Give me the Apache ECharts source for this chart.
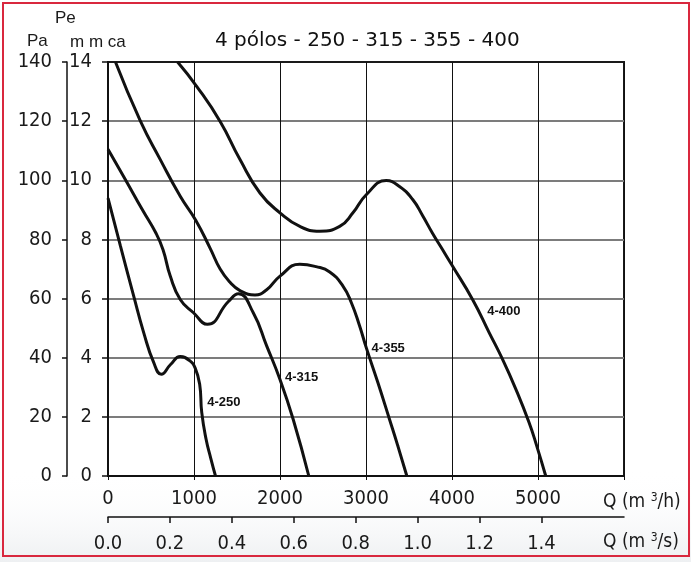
<!DOCTYPE html>
<html><head><meta charset="utf-8">
<script src="https://cdn.jsdelivr.net/npm/echarts@6/dist/echarts.min.js"></script>
<style>html,body{margin:0;padding:0;background:#fff}#c{width:691px;height:562px}</style>
</head><body><div id="c"></div>
<script>
// ---- data (Q in m3/h, Pe in Pa) ----
const curveNames = ['4-250', '4-315', '4-355', '4-400'];
const q250 = [0, 145, 299, 415, 531, 620, 730, 840, 950, 1014, 1066, 1090, 1140, 1195, 1250];
const p250 = [94, 77.7, 60.8, 48.5, 38.4, 34.4, 37.8, 40.4, 39, 36.5, 31, 21.5, 12.5, 6, 0];
const q315 = [0, 203, 400, 560, 640, 724, 840, 994, 1157, 1400, 1516, 1689, 1845, 1999, 2153, 2335];
const p315 = [110.5, 100.2, 90, 82, 76.5, 67.6, 59.7, 55.2, 51.3, 59, 61.6, 55.2, 44, 32.7, 19.2, 0];
const q355 = [87, 377, 608, 840, 1020, 1188, 1304, 1419, 1530, 1709, 1845, 2000, 2230, 2420, 2578, 2732, 2830, 2926, 3003, 3138, 3273, 3370, 3475];
const p355 = [140, 120, 107, 94.6, 86.5, 77, 70, 65.5, 62.8, 61.2, 63, 67.6, 71.6, 70.8, 69, 64.2, 58.6, 50.7, 43.4, 31.6, 19.2, 10.2, 0];
const q400 = [809, 1033, 1304, 1535, 1767, 1999, 2231, 2462, 2694, 2848, 3003, 3235, 3389, 3543, 3659, 3775, 3891, 3995, 4239, 4432, 4587, 4742, 4896, 4985, 5090];
const p400 = [140, 131.7, 119.9, 107, 95.7, 89, 84.4, 82.8, 84.4, 89, 95.1, 99.9, 97.9, 93.5, 88, 82, 76.5, 71.5, 59.7, 48.5, 39.5, 29.4, 18.1, 10.2, 0];
const qTicks = [0, 1000, 2000, 3000, 4000, 5000];
const qsTicks = [0, 0.2, 0.4, 0.6, 0.8, 1.0, 1.2, 1.4];
const paTicks = [0, 20, 40, 60, 80, 100, 120, 140];
const mmTicks = [0, 2, 4, 6, 8, 10, 12, 14];

// ---- pick a narrow font if one is installed ----
function hasFont(f) {
  const ctx = document.createElement('canvas').getContext('2d');
  ctx.font = '20px monospace';
  const w0 = ctx.measureText('1000 Qmx abc').width;
  ctx.font = "20px '" + f + "', monospace";
  return ctx.measureText('1000 Qmx abc').width !== w0;
}
let NARROW = "'Liberation Sans',Arial,sans-serif", tickSize = 18, unitSize = 17;
for (const f of ['Liberation Sans Narrow', 'Arial Narrow', 'DejaVu Sans Condensed']) {
  if (hasFont(f)) { NARROW = "'" + f + "',sans-serif"; tickSize = 20; unitSize = 19; break; }
}

const chart = echarts.init(document.getElementById('c'), null, {renderer: 'canvas'});
const pairs = (q, p) => q.map((v, i) => [v, p[i]]);
const curveData = [pairs(q250, p250), pairs(q315, p315), pairs(q355, p355), pairs(q400, p400)];
const labelAt = [[1153, 25], [2057, 33.4], [3065, 43.2], [4409, 55.7]];

const series = curveNames.map((name, i) => ({
  type: 'line', name, xAxisIndex: 0, yAxisIndex: 1,
  data: curveData[i], smooth: 0.5,
  symbol: 'none', silent: true, z: 5,
  lineStyle: {color: '#111', width: 3},
  markPoint: {
    symbol: 'circle', symbolSize: 0, silent: true,
    data: [{coord: labelAt[i]}],
    label: {show: true, position: 'right', distance: 0, formatter: name,
      fontWeight: 'bold', fontSize: 13, color: '#111', fontFamily: 'Arial'}
  }
}));

const axisText = {fontSize: tickSize, fontFamily: NARROW, color: '#1a1a1a'};

chart.setOption({
  animation: false,
  backgroundColor: '#fff',
  grid: {left: 108, top: 62, width: 516, height: 414, show: true, borderColor: '#1a1a1a', borderWidth: 2, backgroundColor: 'transparent'},
  xAxis: [{
    type: 'value', min: 0, max: 6000, interval: 1000, position: 'bottom',
    axisLine: {show: true, onZero: false, lineStyle: {color: '#111', width: 2}},
    axisTick: {show: true, length: 4, lineStyle: {color: '#111'}},
    axisLabel: Object.assign({margin: 13, formatter: v => qTicks.includes(v) ? String(v) : ''}, axisText),
    splitLine: {show: true, lineStyle: {color: '#111', width: 1}}
  }, {
    type: 'value', min: 0, max: 6000 / 3600, position: 'bottom', offset: 41,
    axisLine: {show: true, onZero: false, lineStyle: {color: '#111', width: 1.5}},
    axisTick: {show: true, length: 6, customValues: qsTicks, lineStyle: {color: '#111', width: 1.5}},
    axisLabel: Object.assign({margin: 17, customValues: qsTicks, formatter: v => v.toFixed(1)}, axisText),
    splitLine: {show: false}
  }],
  yAxis: [{
    type: 'value', min: 0, max: 14, interval: 2, position: 'left',
    axisLine: {show: true, onZero: false, lineStyle: {color: '#111', width: 2}},
    axisTick: {show: true, length: 6, lineStyle: {color: '#111', width: 1.5}},
    axisLabel: Object.assign({margin: 16, formatter: v => mmTicks.includes(v) ? String(v) : ''}, axisText),
    splitLine: {show: true, showMaxLine: false, showMinLine: false, lineStyle: {color: '#7c7c7c', width: 2}}
  }, {
    type: 'value', min: 0, max: 140, interval: 20, position: 'left', offset: 41,
    axisLine: {show: true, onZero: false, lineStyle: {color: '#111', width: 1.5}},
    axisTick: {show: true, length: 5, lineStyle: {color: '#111', width: 1.5}},
    axisLabel: Object.assign({margin: 15, formatter: v => paTicks.includes(v) ? String(v) : ''}, axisText),
    splitLine: {show: false}
  }],
  graphic: [
    {type: 'rect', z: -10, silent: true, shape: {x: 0, y: 470, width: 691, height: 92},
      style: {fill: new echarts.graphic.LinearGradient(0, 0, 0, 1, [{offset: 0, color: 'rgba(255,255,255,0)'}, {offset: 1, color: '#eef0f2'}])}},
    {type: 'rect', z: 100, silent: true, shape: {x: 3, y: 3, width: 686, height: 553},
      style: {fill: 'none', stroke: '#d9283e', lineWidth: 2}},
    {type: 'text', z: 100, silent: true, style: {text: '4 pólos - 250 - 315 - 355 - 400', x: 215, y: 41,
      fontSize: 20, fontFamily: "'DejaVu Sans',sans-serif", fill: '#111', verticalAlign: 'middle'}},
    {type: 'text', z: 100, silent: true, style: {text: 'Pa', x: 27, y: 41, fontSize: 17, fontFamily: "'Liberation Sans',Arial", fill: '#1a1a1a', verticalAlign: 'middle'}},
    {type: 'text', z: 100, silent: true, style: {text: 'Pe', x: 55, y: 18, fontSize: 17, fontFamily: "'Liberation Sans',Arial", fill: '#1a1a1a', verticalAlign: 'middle'}},
    {type: 'text', z: 100, silent: true, style: {text: 'm m ca', x: 70, y: 42, fontSize: 17, fontFamily: "'Liberation Sans',Arial", fill: '#1a1a1a', verticalAlign: 'middle'}},
    {type: 'text', z: 100, silent: true, style: {text: '{a|Q (m }{s|3}{a|/h)}', x: 603, y: 502, verticalAlign: 'middle',
      rich: {a: {fontSize: unitSize, fontFamily: NARROW, fill: '#1a1a1a', lineHeight: 20, verticalAlign: 'bottom'},
             s: {fontSize: 12, fontFamily: NARROW, fill: '#1a1a1a', lineHeight: 20, verticalAlign: 'top'}}}},
    {type: 'text', z: 100, silent: true, style: {text: '{a|Q (m }{s|3}{a|/s)}', x: 603, y: 542, verticalAlign: 'middle',
      rich: {a: {fontSize: unitSize, fontFamily: NARROW, fill: '#1a1a1a', lineHeight: 20, verticalAlign: 'bottom'},
             s: {fontSize: 12, fontFamily: NARROW, fill: '#1a1a1a', lineHeight: 20, verticalAlign: 'top'}}}}
  ],
  series
});
</script>
</body></html>
